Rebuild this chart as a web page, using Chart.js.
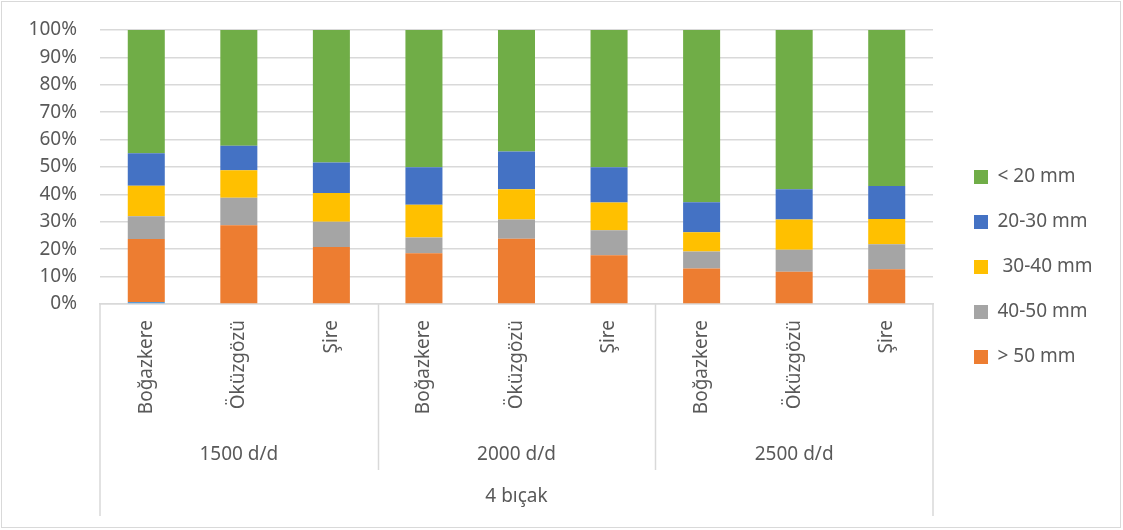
<!DOCTYPE html>
<html>
<head>
<meta charset="utf-8">
<script src="https://cdn.jsdelivr.net/npm/chart.js"></script>
<style>
  html, body { margin: 0; padding: 0; background: #fff; }
  #wrap { width: 1123px; height: 530px; }
</style>
</head>
<body>
<div id="wrap"><canvas id="chart" width="1123" height="530"></canvas></div>
<script>
const categories = ['Boğazkere', 'Öküzgözü', 'Şire', 'Boğazkere', 'Öküzgözü', 'Şire', 'Boğazkere', 'Öküzgözü', 'Şire'];
const groups = ['1500 d/d', '2000 d/d', '2500 d/d'];
const topGroup = '4 bıçak';
const yTicks = [0, 10, 20, 30, 40, 50, 60, 70, 80, 90, 100];

// stacked from the bottom up (percent)
const sliver = [0.7, 0, 0, 0, 0, 0, 0, 0, 0];
const over50 = [23.0, 28.7, 20.8, 18.5, 23.8, 17.8, 13.0, 11.8, 12.7];
const mm40_50 = [8.3, 10.1, 9.2, 5.8, 7.0, 9.1, 6.2, 8.0, 9.1];
const mm30_40 = [11.2, 10.0, 10.5, 11.9, 11.1, 10.1, 7.0, 11.0, 9.2];
const mm20_30 = [11.8, 9.0, 11.1, 13.7, 13.8, 12.9, 10.9, 11.1, 12.1];
const under20 = [45.0, 42.2, 48.4, 50.1, 44.3, 50.1, 62.9, 58.1, 56.9];

const textColor = '#595959';
const lineColor = '#d9d9d9';
const fontFamily = '"Noto Sans", sans-serif';

// multi-level category axis + outer frame
const boxPlugin = {
	id: 'boxPlugin',
	afterInit(chart) {
		const lg = chart.legend;
		const fit = lg.fit.bind(lg);
		lg.fit = function () { fit(); this.width = 190; };
	},
	afterLayout(chart) {
		const lg = chart.legend;
		lg.left = 948; lg.right = 1123;
		lg.top = 2; lg.bottom = 532;
	},
	afterDraw(chart) {
		const ctx = chart.ctx;
		const x = chart.scales.x;
		const area = chart.chartArea;
		const n = categories.length;
		const per = n / groups.length;
		const edge = i => {
			if (i <= 0) return area.left;
			if (i >= n) return area.right;
			return (x.getPixelForValue(i - 1) + x.getPixelForValue(i)) / 2;
		};
		ctx.save();
		ctx.strokeStyle = lineColor;
		ctx.lineWidth = 1.5;
		ctx.beginPath();
		ctx.moveTo(area.left, area.bottom); ctx.lineTo(area.left, 516);
		ctx.moveTo(area.right, area.bottom); ctx.lineTo(area.right, 516);
		for (let g = 1; g < groups.length; g++) {
			const px = Math.round(edge(g * per)) + 0.5;
			ctx.moveTo(px, area.bottom); ctx.lineTo(px, 470);
		}
		ctx.stroke();

		ctx.fillStyle = textColor;
		ctx.font = '19px ' + fontFamily;
		ctx.textAlign = 'center';
		ctx.textBaseline = 'middle';
		groups.forEach((g, i) => {
			ctx.fillText(g, (edge(i * per) + edge((i + 1) * per)) / 2, 455);
		});
		ctx.fillText(topGroup, (area.left + area.right) / 2, 497);

		ctx.strokeStyle = lineColor;
		ctx.lineWidth = 1;
		ctx.strokeRect(1.5, 1.5, 1119, 526);
		ctx.restore();
	}
};

const ctx = document.getElementById('chart').getContext('2d');

new Chart(ctx, {
	type: 'bar',
	data: {
		labels: categories,
		datasets: [
			{ label: '', data: sliver, backgroundColor: '#5B9BD5' },
			{ label: '> 50 mm', data: over50, backgroundColor: '#ED7D31' },
			{ label: '40-50 mm', data: mm40_50, backgroundColor: '#A5A5A5' },
			{ label: ' 30-40 mm', data: mm30_40, backgroundColor: '#FFC000' },
			{ label: '20-30 mm', data: mm20_30, backgroundColor: '#4472C4' },
			{ label: '< 20 mm', data: under20, backgroundColor: '#70AD47' }
		]
	},
	options: {
		responsive: false,
		animation: false,
		categoryPercentage: 1,
		barPercentage: 0.4,
		layout: { padding: { top: 30, left: 0, right: 0, bottom: 0 } },
		plugins: {
			tooltip: { enabled: false },
			legend: {
				position: 'right',
				reverse: true,
				labels: {
					boxWidth: 14,
					boxHeight: 14,
					padding: 26,
					color: textColor,
					font: { family: fontFamily, size: 19 },
					filter: item => item.text !== ''
				}
			}
		},
		scales: {
			x: {
				stacked: true,
				afterFit: s => { s.height = 226; },
				grid: { display: false, drawTicks: false },
				border: { display: true, color: lineColor, width: 1.5 },
				ticks: {
					autoSkip: false,
					minRotation: 90,
					maxRotation: 90,
					padding: 16,
					color: textColor,
					font: { family: fontFamily, size: 19 }
				}
			},
			y: {
				stacked: true,
				min: 0,
				max: 100,
				afterFit: s => { s.width = 100; s.paddingTop = 0; s.paddingBottom = 0; },
				afterBuildTicks: s => { s.ticks = yTicks.map(v => ({ value: v })); },
				grid: { color: lineColor, lineWidth: 1.5, drawTicks: false },
				border: { display: false },
				ticks: {
					padding: 23,
					color: textColor,
					font: { family: fontFamily, size: 19 },
					callback: v => v + '%'
				}
			}
		}
	},
	plugins: [boxPlugin]
});
</script>
</body>
</html>
